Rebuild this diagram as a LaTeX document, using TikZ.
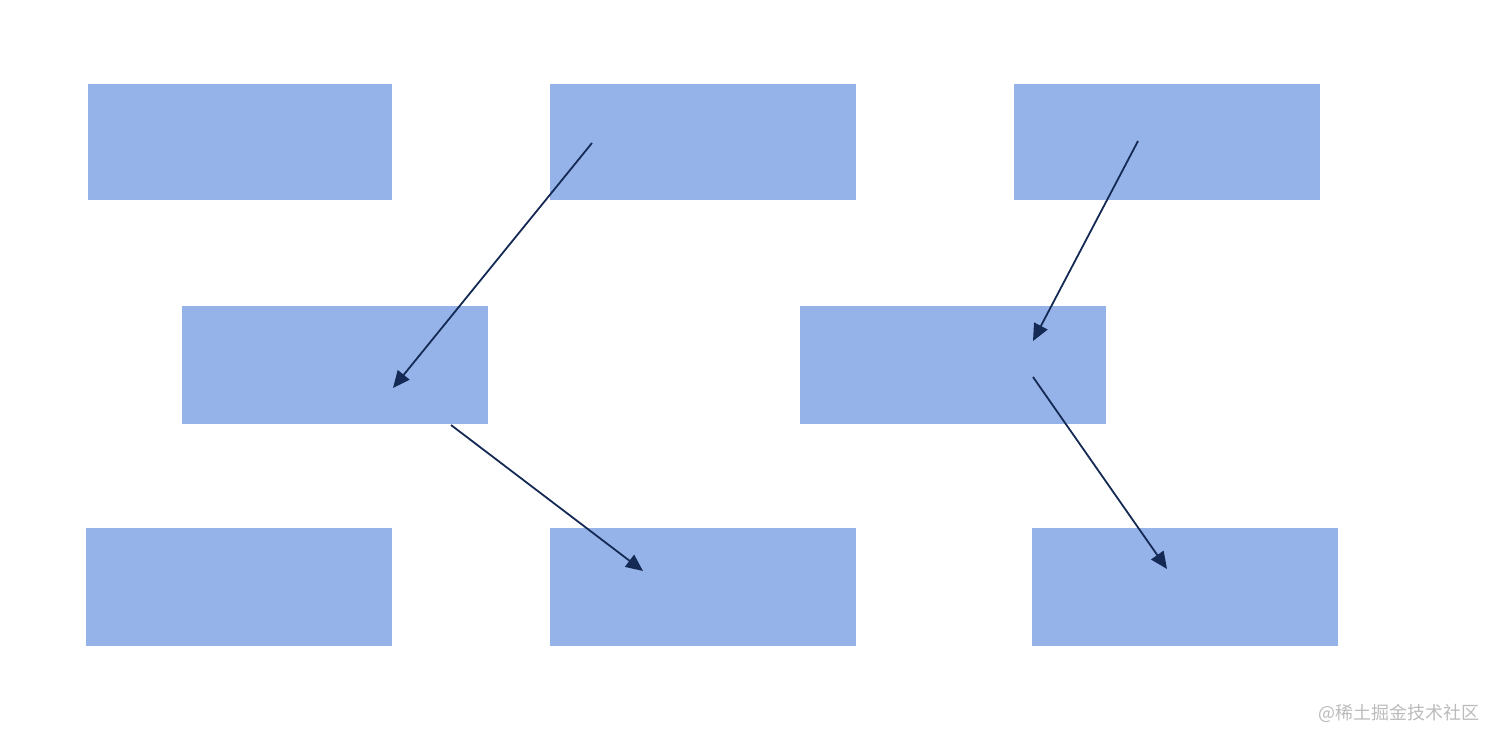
\documentclass[tikz,border=0pt]{standalone}
\usepackage{fontspec}
\newfontfamily\cjk{Noto Sans CJK SC}
\usetikzlibrary{arrows.meta}
\definecolor{boxblue}{HTML}{96B3E9}
\definecolor{arrownavy}{HTML}{142A55}
\definecolor{wmgray}{HTML}{BBBBBB}
\tikzset{
  box/.style={fill=boxblue, draw=none, inner sep=0pt, minimum width=#1, minimum height=116pt},
  box/.default=306pt,
  tallbox/.style={box=#1, minimum height=118pt},
  tallbox/.default=306pt,
  conn/.style={draw=arrownavy, line width=1.8pt, -{Triangle[length=17pt,width=15pt]}},
}
\begin{document}
\begin{tikzpicture}[x=1pt,y=-1pt]
\useasboundingbox (0,0) rectangle (1486,730);
\node[box=304pt] (b1) at (240,142) {};
\node[box] (b2) at (703,142) {};
\node[box] (b3) at (1167,142) {};
\node[tallbox] (b4) at (335,365) {};
\node[tallbox] (b5) at (953,365) {};
\node[tallbox] (b6) at (239,587) {};
\node[tallbox] (b7) at (703,587) {};
\node[tallbox] (b8) at (1185,587) {};
\coordinate (s1) at (592,143);
\coordinate (t1) at (393,388);
\coordinate (s2) at (451,425);
\coordinate (t2) at (643,571);
\coordinate (s3) at (1138,141);
\coordinate (t3) at (1033,341);
\coordinate (s4) at (1033,377);
\coordinate (t4) at (1167,569);
\draw[conn] (s1) -- (t1);
\draw[conn] (s2) -- (t2);
\draw[conn] (s3) -- (t3);
\draw[conn] (s4) -- (t4);
\node[anchor=east, inner sep=0pt, text=wmgray, font=\cjk\fontsize{18pt}{18pt}\selectfont] (wm) at (1480,713) {@稀土掘金技术社区};
\end{tikzpicture}
\end{document}
